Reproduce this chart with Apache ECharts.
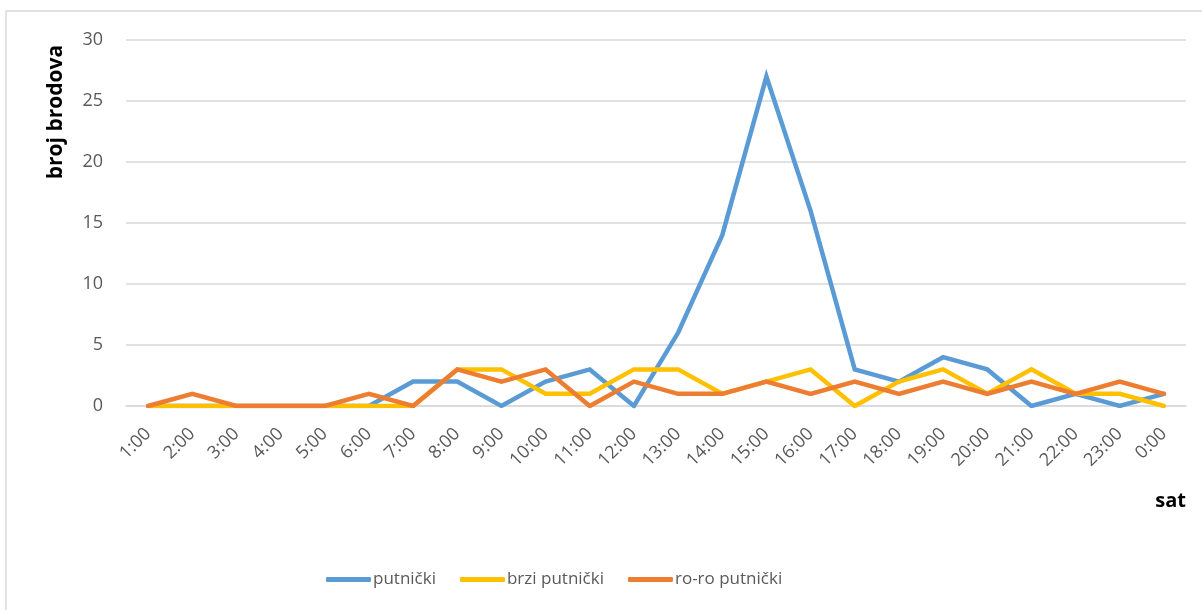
<!DOCTYPE html>
<html>
<head>
<meta charset="utf-8">
<style>
  html, body { margin: 0; padding: 0; background: #fff; }
  #chart { width: 1202px; height: 610px; }
</style>
<script src="https://cdn.jsdelivr.net/npm/echarts@6/dist/echarts.min.js"></script>
</head>
<body>
<div id="chart"></div>
<script>
// Hours of the day
const hours = ['1:00','2:00','3:00','4:00','5:00','6:00','7:00','8:00','9:00','10:00','11:00','12:00',
  '13:00','14:00','15:00','16:00','17:00','18:00','19:00','20:00','21:00','22:00','23:00','0:00'];

// Number of ships per hour, by ship type
const putnicki     = [0,0,0,0,0,0,2,2,0,2,3,0,6,14,27,16,3,2,4,3,0,1,0,1];
const brziPutnicki = [0,0,0,0,0,0,0,3,3,1,1,3,3,1,2,3,0,2,3,1,3,1,1,0];
const roroPutnicki = [0,1,0,0,0,1,0,3,2,3,0,2,1,1,2,1,2,1,2,1,2,1,2,1];

// Value axis ticks
const yMin = 0, yMax = 30, yStep = 5;

const FONT = 'Open Sans';
const TEXT = '#595959';
const GRID = '#D9D9D9';

function lineSeries(name, data, color) {
  return {
    name, type: 'line', data,
    showSymbol: false, symbol: 'none',
    lineStyle: { width: 4.5, color, join: 'miter', cap: 'round' },
    itemStyle: { color },
    emphasis: { disabled: true },
    animation: false
  };
}

const chart = echarts.init(document.getElementById('chart'), null, { renderer: 'canvas' });
chart.setOption({
  animation: false,
  textStyle: { fontFamily: FONT },
  grid: { left: 126, right: 16, top: 40, bottom: 204, containLabel: false },
  xAxis: {
    type: 'category',
    data: hours,
    boundaryGap: true,
    axisLine: { show: true, lineStyle: { color: GRID, width: 1.5 } },
    axisTick: { show: false },
    axisLabel: { rotate: 45, color: TEXT, fontSize: 18, fontFamily: FONT, margin: 25, interval: 0 }
  },
  yAxis: {
    type: 'value',
    min: yMin, max: yMax, interval: yStep,
    axisLine: { show: false },
    axisTick: { show: false },
    axisLabel: { color: TEXT, fontSize: 18, fontFamily: FONT, margin: 23 },
    splitLine: { lineStyle: { color: GRID, width: 1.5 } }
  },
  legend: {
    top: 566,
    left: 321,
    itemWidth: 45,
    itemHeight: 5,
    itemGap: 24,
    icon: 'roundRect',
    textStyle: { color: TEXT, fontSize: 17, fontFamily: FONT, padding: [0, 0, 0, -3] },
    data: ['putnički', 'brzi putnički', 'ro-ro putnički']
  },
  graphic: [
    {
      type: 'rect', silent: true, z: -1,
      shape: { x: 6, y: 11, width: 1400, height: 800 },
      style: { fill: 'none', stroke: GRID, lineWidth: 1.5 }
    },
    {
      type: 'text', silent: true,
      x: 56, y: 112, rotation: Math.PI / 2,
      style: {
        text: 'broj brodova', fill: '#000', font: 'bold 21px "Open Sans"',
        align: 'center', verticalAlign: 'middle'
      }
    },
    {
      type: 'text', silent: true,
      x: 1186, y: 501,
      style: {
        text: 'sat', fill: '#000', font: 'bold 20px "Open Sans"',
        align: 'right', verticalAlign: 'middle'
      }
    }
  ],
  series: [
    lineSeries('putnički', putnicki, '#5B9BD5'),
    lineSeries('brzi putnički', brziPutnicki, '#FFC000'),
    lineSeries('ro-ro putnički', roroPutnicki, '#ED7D31')
  ]
});
</script>
</body>
</html>
